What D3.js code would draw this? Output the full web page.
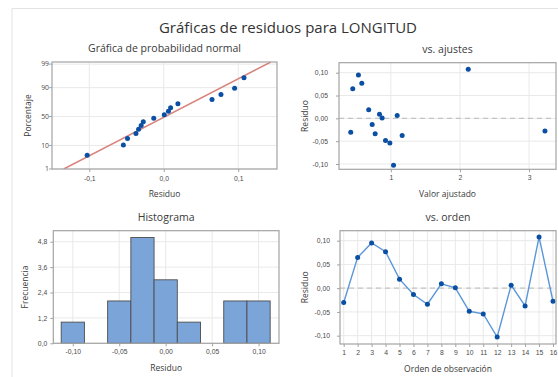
<!DOCTYPE html>
<html>
<head>
<meta charset="utf-8">
<script src="https://cdn.jsdelivr.net/npm/d3@7"></script>
<style>
  html, body { margin: 0; padding: 0; background: #fff; }
  svg { display: block; font-family: "Open Sans", "Noto Sans", sans-serif; }
</style>
</head>
<body>
<svg id="chart" width="558" height="377"></svg>
<script>
// Residuals in observation order
const residuals = [-0.0303, 0.0648, 0.0951, 0.0768, 0.0190, -0.0134, -0.0338, 0.0092,
                   0.0007, -0.0486, -0.0542, -0.1028, 0.0063, -0.0373, 0.1077, -0.0275];
// Fitted values in observation order
const fitted = [0.420, 0.449, 0.531, 0.580, 0.680, 0.730, 0.773, 0.836,
                0.874, 0.923, 0.986, 1.039, 1.092, 1.164, 2.120, 3.230];
const observations = d3.range(1, 17);

// Tick values
const probTicks = [1, 10, 50, 90, 99];
const probXTicks = [-0.1, 0.0, 0.1];
const residTicks = [-0.10, -0.05, 0.00, 0.05, 0.10];
const fitTicks = [1, 2, 3];
const freqTicks = [0, 1.2, 2.4, 3.6, 4.8];
const histEdges = d3.range(0, 10).map(k => -0.1125 + 0.025 * k);

const mainTitle = "Gráficas de residuos para LONGITUD";
const panelTitles = ["Gráfica de probabilidad normal", "vs. ajustes", "Histograma", "vs. orden"];

const loc = d3.formatLocale({decimal: ",", thousands: ".", grouping: [3], currency: ["", ""], minus: "-"});
const f1 = loc.format(".1f"), f2 = loc.format(".2f");

// inverse standard normal CDF (Acklam)
function probit(p) {
  const a = [-3.969683028665376e+01, 2.209460984245205e+02, -2.759285104469687e+02, 1.383577518672690e+02, -3.066479806614716e+01, 2.506628277459239e+00];
  const b = [-5.447609879822406e+01, 1.615858368580409e+02, -1.556989798598866e+02, 6.680131188771972e+01, -1.328068155288572e+01];
  const c = [-7.784894002430293e-03, -3.223964580411365e-01, -2.400758277161838e+00, -2.549732539343734e+00, 4.374664141464968e+00, 2.938163982698783e+00];
  const d = [7.784695709041462e-03, 3.224671290700398e-01, 2.445134137142996e+00, 3.754408661907416e+00];
  const pl = 0.02425;
  let q, r;
  if (p < pl) { q = Math.sqrt(-2 * Math.log(p)); return (((((c[0]*q+c[1])*q+c[2])*q+c[3])*q+c[4])*q+c[5]) / ((((d[0]*q+d[1])*q+d[2])*q+d[3])*q+1); }
  if (p > 1 - pl) { q = Math.sqrt(-2 * Math.log(1 - p)); return -(((((c[0]*q+c[1])*q+c[2])*q+c[3])*q+c[4])*q+c[5]) / ((((d[0]*q+d[1])*q+d[2])*q+d[3])*q+1); }
  q = p - 0.5; r = q * q;
  return (((((a[0]*r+a[1])*r+a[2])*r+a[3])*r+a[4])*r+a[5])*q / (((((b[0]*r+b[1])*r+b[2])*r+b[3])*r+b[4])*r+1);
}

const svg = d3.select("#chart");
const C = {frame: "#a3a3a3", grid: "#e9e9e9", text: "#3a3a3a", tick: "#4a4a4a",
           dot: "#0a4fa3", fit: "#d9837d", bar: "#7ba4d9", barStroke: "#4d4d4d", line: "#5b97d8"};

// outer border of the figure
svg.append("path").attr("d", "M12,377V8.5H558").attr("fill", "none").attr("stroke", "#e3e3e3").attr("stroke-width", 1);

svg.append("text").attr("x", 288).attr("y", 33).attr("text-anchor", "middle")
  .attr("font-size", 15).attr("fill", "#333").text(mainTitle);

function panel(box, title, xLab, yLab, labY) {
  const g = svg.append("g");
  const cx = (box.x0 + box.x1) / 2;
  g.append("text").attr("x", cx).attr("y", box.y0 - 10).attr("text-anchor", "middle")
    .attr("font-size", 10.5).attr("fill", C.text).text(title);
  g.append("text").attr("x", cx).attr("y", box.y1 + 28).attr("text-anchor", "middle")
    .attr("font-size", 8.5).attr("fill", C.text).text(xLab);
  g.append("text").attr("transform", `translate(${labY},${(box.y0 + box.y1) / 2}) rotate(-90)`)
    .attr("text-anchor", "middle").attr("font-size", 8.5).attr("fill", C.text).text(yLab);
  return g;
}

function grid(g, box, xs, xv, ys, yv) {
  g.append("g").selectAll("line").data(xv).join("line")
    .attr("x1", d => xs(d)).attr("x2", d => xs(d)).attr("y1", box.y0).attr("y2", box.y1)
    .attr("stroke", C.grid).attr("stroke-width", 1);
  g.append("g").selectAll("line").data(yv).join("line")
    .attr("y1", d => ys(d)).attr("y2", d => ys(d)).attr("x1", box.x0).attr("x2", box.x1)
    .attr("stroke", C.grid).attr("stroke-width", 1);
}

function axes(g, box, xs, xv, xf, ys, yv, yf, yGap) {
  const ax = g.append("g").attr("transform", `translate(0,${box.y1})`)
    .call(d3.axisBottom(xs).tickValues(xv).tickFormat(xf).tickSize(3).tickPadding(3));
  const ay = g.append("g").attr("transform", `translate(${box.x0},0)`)
    .call(d3.axisLeft(ys).tickValues(yv).tickFormat(yf).tickSize(3).tickPadding(yGap));
  [ax, ay].forEach(a => {
    a.select(".domain").remove();
    a.selectAll("line").attr("stroke", C.frame);
    a.selectAll("text").attr("font-size", 6.8).attr("fill", C.tick).attr("font-family", null);
  });
}

function frame(g, box) {
  g.append("rect").attr("x", box.x0).attr("y", box.y0).attr("width", box.x1 - box.x0).attr("height", box.y1 - box.y0)
    .attr("fill", "none").attr("stroke", C.frame).attr("stroke-width", 1.2);
}

function clip(id, box) {
  svg.append("clipPath").attr("id", id).append("rect")
    .attr("x", box.x0).attr("y", box.y0).attr("width", box.x1 - box.x0).attr("height", box.y1 - box.y0);
}

// ---------- Normal probability plot ----------
{
  const box = {x0: 52, x1: 277, y0: 62, y1: 169};
  const g = panel(box, panelTitles[0], "Residuo", "Porcentaje", 31);
  const x = d3.scaleLinear().domain([-0.15, 0.152]).range([box.x0, box.x1]);
  const y = d3.scaleLinear().domain([-2.326, 2.42]).range([box.y1, box.y0]);
  const yp = p => y(probit(p / 100));
  grid(g, box, x, probXTicks, y, probTicks.map(p => probit(p / 100)));
  const n = residuals.length;
  const sorted = residuals.slice().sort(d3.ascending);
  const pts = sorted.map((r, i) => ({r, z: probit((i + 1 - 0.3) / (n + 0.4))}));
  const mu = d3.mean(residuals), sd = d3.deviation(residuals);
  clip("c1", box);
  const zs = y.domain();
  g.append("line").attr("clip-path", "url(#c1)")
    .attr("x1", x(mu + sd * zs[0])).attr("y1", y(zs[0]))
    .attr("x2", x(mu + sd * zs[1])).attr("y2", y(zs[1]))
    .attr("stroke", C.fit).attr("stroke-width", 1.5);
  g.append("g").selectAll("circle").data(pts).join("circle")
    .attr("cx", d => x(d.r)).attr("cy", d => y(d.z)).attr("r", 2.5).attr("fill", C.dot);
  const ys = d3.scaleLinear().domain([0, 1]).range([0, 1]);
  // y axis on probability scale
  const ay = g.append("g").attr("transform", `translate(${box.x0},0)`);
  ay.selectAll("line").data(probTicks).join("line")
    .attr("x1", -3).attr("x2", 0).attr("y1", d => yp(d)).attr("y2", d => yp(d)).attr("stroke", C.frame);
  ay.selectAll("text").data(probTicks).join("text")
    .attr("x", -3).attr("y", d => yp(d)).attr("dy", "0.32em").attr("text-anchor", "end")
    .attr("font-size", 6.8).attr("fill", C.tick).text(d => d);
  const ax = g.append("g").attr("transform", `translate(0,${box.y1})`)
    .call(d3.axisBottom(x).tickValues(probXTicks).tickFormat(f1).tickSize(3).tickPadding(4));
  ax.select(".domain").remove();
  ax.selectAll("line").attr("stroke", C.frame);
  ax.selectAll("text").attr("font-size", 6.8).attr("fill", C.tick).attr("font-family", null);
  frame(g, box);
}

// ---------- vs. ajustes ----------
{
  const box = {x0: 339, x1: 556, y0: 62.7, y1: 169.3};
  const g = panel(box, panelTitles[1], "Valor ajustado", "Residuo", 308);
  const x = d3.scaleLinear().domain([0.25, 3.39]).range([box.x0, box.x1]);
  const y = d3.scaleLinear().domain([-0.1116, 0.1219]).range([box.y1, box.y0]);
  grid(g, box, x, fitTicks, y, residTicks);
  g.append("line").attr("x1", box.x0).attr("x2", box.x1).attr("y1", y(0)).attr("y2", y(0))
    .attr("stroke", "#c4c4c4").attr("stroke-width", 1.2).attr("stroke-dasharray", "5,4");
  g.append("g").selectAll("circle").data(residuals).join("circle")
    .attr("cx", (d, i) => x(fitted[i])).attr("cy", d => y(d)).attr("r", 2.5).attr("fill", C.dot);
  axes(g, box, x, fitTicks, d3.format("d"), y, residTicks, f2, 8);
  frame(g, box);
}

// ---------- Histograma ----------
{
  const box = {x0: 53.3, x1: 279, y0: 230.7, y1: 343.3};
  const g = panel(box, panelTitles[2], "Residuo", "Frecuencia", 28);
  const x = d3.scaleLinear().domain([-0.121, 0.122]).range([box.x0, box.x1]);
  const y = d3.scaleLinear().domain([0, 5.32]).range([box.y1, box.y0]);
  grid(g, box, x, residTicks, y, freqTicks);
  const bins = d3.bin().domain([histEdges[0], histEdges[histEdges.length - 1]]).thresholds(histEdges)(residuals);
  g.append("g").selectAll("rect").data(bins.filter(b => b.length > 0)).join("rect")
    .attr("x", d => x(d.x0)).attr("width", d => x(d.x1) - x(d.x0))
    .attr("y", d => y(d.length)).attr("height", d => y(0) - y(d.length))
    .attr("fill", C.bar).attr("stroke", C.barStroke).attr("stroke-width", 0.9);
  axes(g, box, x, residTicks, f2, y, freqTicks, f1, 3);
  frame(g, box);
}

// ---------- vs. orden ----------
{
  const box = {x0: 340, x1: 556, y0: 230.7, y1: 344};
  const g = panel(box, panelTitles[3], "Orden de observación", "Residuo", 308);
  const x = d3.scaleLinear().domain([0.735, 16.215]).range([box.x0, box.x1]);
  const y = d3.scaleLinear().domain([-0.1175, 0.121]).range([box.y1, box.y0]);
  grid(g, box, x, observations, y, residTicks);
  g.append("line").attr("x1", box.x0).attr("x2", box.x1).attr("y1", y(0)).attr("y2", y(0))
    .attr("stroke", "#c4c4c4").attr("stroke-width", 1.2).attr("stroke-dasharray", "5,4");
  g.append("path").datum(residuals)
    .attr("d", d3.line().x((d, i) => x(observations[i])).y(d => y(d)))
    .attr("fill", "none").attr("stroke", C.line).attr("stroke-width", 1.4);
  g.append("g").selectAll("circle").data(residuals).join("circle")
    .attr("cx", (d, i) => x(observations[i])).attr("cy", d => y(d)).attr("r", 2.5).attr("fill", C.dot);
  axes(g, box, x, observations, d3.format("d"), y, residTicks, f2, 7);
  frame(g, box);
}
</script>
</body>
</html>
